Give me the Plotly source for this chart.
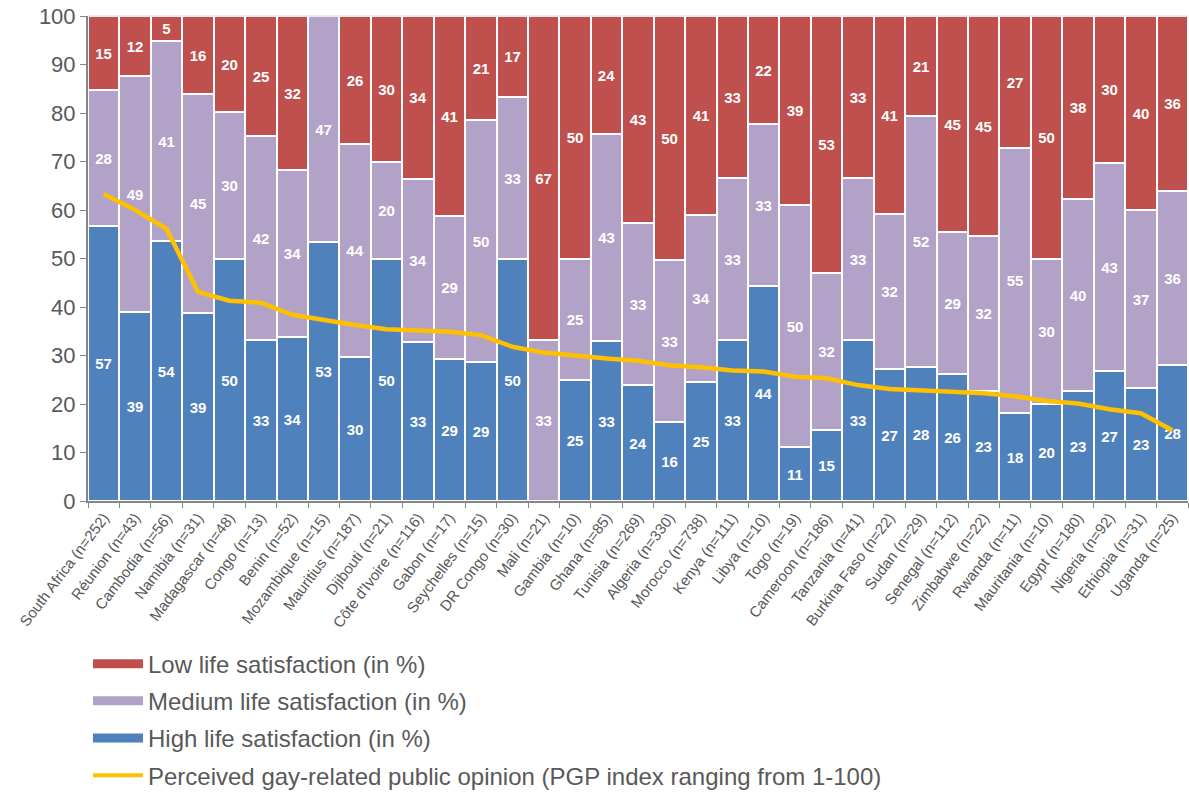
import plotly.graph_objects as go

countries = ["South Africa (n=252)", "Réunion (n=43)", "Cambodia (n=56)", "Namibia (n=31)",
             "Madagascar (n=48)", "Congo (n=13)", "Benin (n=52)", "Mozambique (n=15)",
             "Mauritius (n=187)", "Djibouti (n=21)", "Côte d'Ivoire (n=116)", "Gabon (n=17)",
             "Seychelles (n=15)", "DR Congo (n=30)", "Mali (n=21)", "Gambia (n=10)",
             "Ghana (n=85)", "Tunisia (n=269)", "Algeria (n=330)", "Morocco (n=738)",
             "Kenya (n=111)", "Libya (n=10)", "Togo (n=19)", "Cameroon (n=186)",
             "Tanzania (n=41)", "Burkina Faso (n=22)", "Sudan (n=29)", "Senegal (n=112)",
             "Zimbabwe (n=22)", "Rwanda (n=11)", "Mauritania (n=10)", "Egypt (n=180)",
             "Nigeria (n=92)", "Ethiopia (n=31)", "Uganda (n=25)"]

high = [56.6, 38.9, 53.6, 38.7, 50.0, 33.3, 33.9, 53.3, 29.6, 50.0, 32.8, 29.3,
        28.6, 50.0, 0.0, 25.0, 32.9, 24.0, 16.2, 24.6, 33.3, 44.4, 11.1, 14.7,
        33.3, 27.3, 27.6, 26.1, 22.7, 18.2, 20.0, 22.6, 26.9, 23.2, 28.0]
medium = [28.2, 48.7, 41.2, 45.3, 30.2, 41.9, 34.3, 46.7, 44.1, 20.0, 33.6, 29.4,
          50.0, 33.3, 33.3, 25.0, 42.8, 33.4, 33.4, 34.3, 33.3, 33.3, 50.0, 32.3,
          33.3, 31.8, 51.7, 29.3, 31.9, 54.6, 30.0, 39.6, 42.7, 36.8, 36.0]
low = [15.2, 12.4, 5.2, 16.0, 19.8, 24.8, 31.8, 0.0, 26.3, 30.0, 33.6, 41.3,
       21.4, 16.7, 66.7, 50.0, 24.3, 42.6, 50.4, 41.1, 33.3, 22.2, 38.9, 53.0,
       33.4, 40.9, 20.7, 44.6, 45.4, 27.2, 50.0, 37.8, 30.4, 40.0, 36.0]
pgp = [63.3, 60.0, 56.1, 43.1, 41.3, 40.9, 38.4, 37.3, 36.3, 35.4, 35.2, 34.9,
       34.2, 31.8, 30.6, 29.9, 29.4, 28.9, 28.0, 27.6, 26.9, 26.7, 25.6, 25.3,
       23.9, 23.1, 22.9, 22.5, 22.2, 21.6, 20.6, 20.1, 18.9, 18.1, 14.6]

C_LOW, C_MED, C_HIGH, C_LINE = "#C0504D", "#B3A2C7", "#4F81BD", "#FFC000"
FONT = "Liberation Sans, Arial, sans-serif"
GREY = "#595959"


def labels(vals):
    return [f"{v:.0f}" if v > 0 else "" for v in vals]


fig = go.Figure()
for name, vals, col in [("High life satisfaction (in %)", high, C_HIGH),
                        ("Medium life satisfaction (in %)", medium, C_MED),
                        ("Low life satisfaction (in %)", low, C_LOW)]:
    fig.add_trace(go.Bar(
        x=countries, y=vals, name=name, showlegend=False,
        marker=dict(color=col, line=dict(color="white", width=2)),
        text=labels(vals), textposition="inside", insidetextanchor="middle",
        constraintext="none",
        textfont=dict(family=FONT, size=15, color="white", weight="bold"),
        hoverinfo="x+y+name"))

fig.add_trace(go.Scatter(x=countries, y=pgp, mode="lines", showlegend=False,
                         line=dict(color=C_LINE, width=4.5),
                         name="Perceived gay-related public opinion (PGP index ranging from 1-100)"))

# legend proxies
for i, (name, col, w) in enumerate([
        ("Low life satisfaction (in %)", C_LOW, 9),
        ("Medium life satisfaction (in %)", C_MED, 9),
        ("High life satisfaction (in %)", C_HIGH, 9),
        ("Perceived gay-related public opinion (PGP index ranging from 1-100)", C_LINE, 4)]):
    fig.add_trace(go.Scatter(x=[None], y=[None], mode="lines", name=name,
                             legendgroup=f"g{i}", legendrank=i + 1,
                             line=dict(color=col, width=w)))

fig.update_layout(
    width=1189, height=793,
    margin=dict(l=88, r=1, t=16, b=292, autoexpand=False),
    barmode="stack", bargap=0,
    plot_bgcolor="white", paper_bgcolor="white",
    font=dict(family=FONT, color=GREY),
    legend=dict(orientation="v", xref="container", yref="container",
                x=0.074, xanchor="left", y=0.191, yanchor="top",
                font=dict(size=24, color=GREY, family=FONT),
                itemwidth=50, tracegroupgap=3, traceorder="grouped",
                bgcolor="rgba(0,0,0,0)"),
    shapes=[dict(type="line", xref="paper", yref="paper", x0=0, x1=1, y0=1, y1=1,
                 line=dict(color="#D9D9D9", width=1))],
)
fig.update_xaxes(type="category", tickangle=-53, tickfont=dict(size=15, color=GREY),
                 showline=True, linecolor="#868686", linewidth=2, automargin=False,
                 ticks="outside", tickson="boundaries", ticklen=5, tickcolor="#868686",
                 showgrid=False)
fig.update_yaxes(range=[0, 100], dtick=10, tickfont=dict(size=22, color=GREY),
                 showline=True, linecolor="#868686", linewidth=2, automargin=False,
                 ticks="outside", ticklen=6, tickcolor="#868686",
                 showgrid=False, zeroline=False)

fig.write_html("out.html", config={"displayModeBar": False},
               post_script="document.body.style.margin='0';document.body.style.overflow='hidden';")
